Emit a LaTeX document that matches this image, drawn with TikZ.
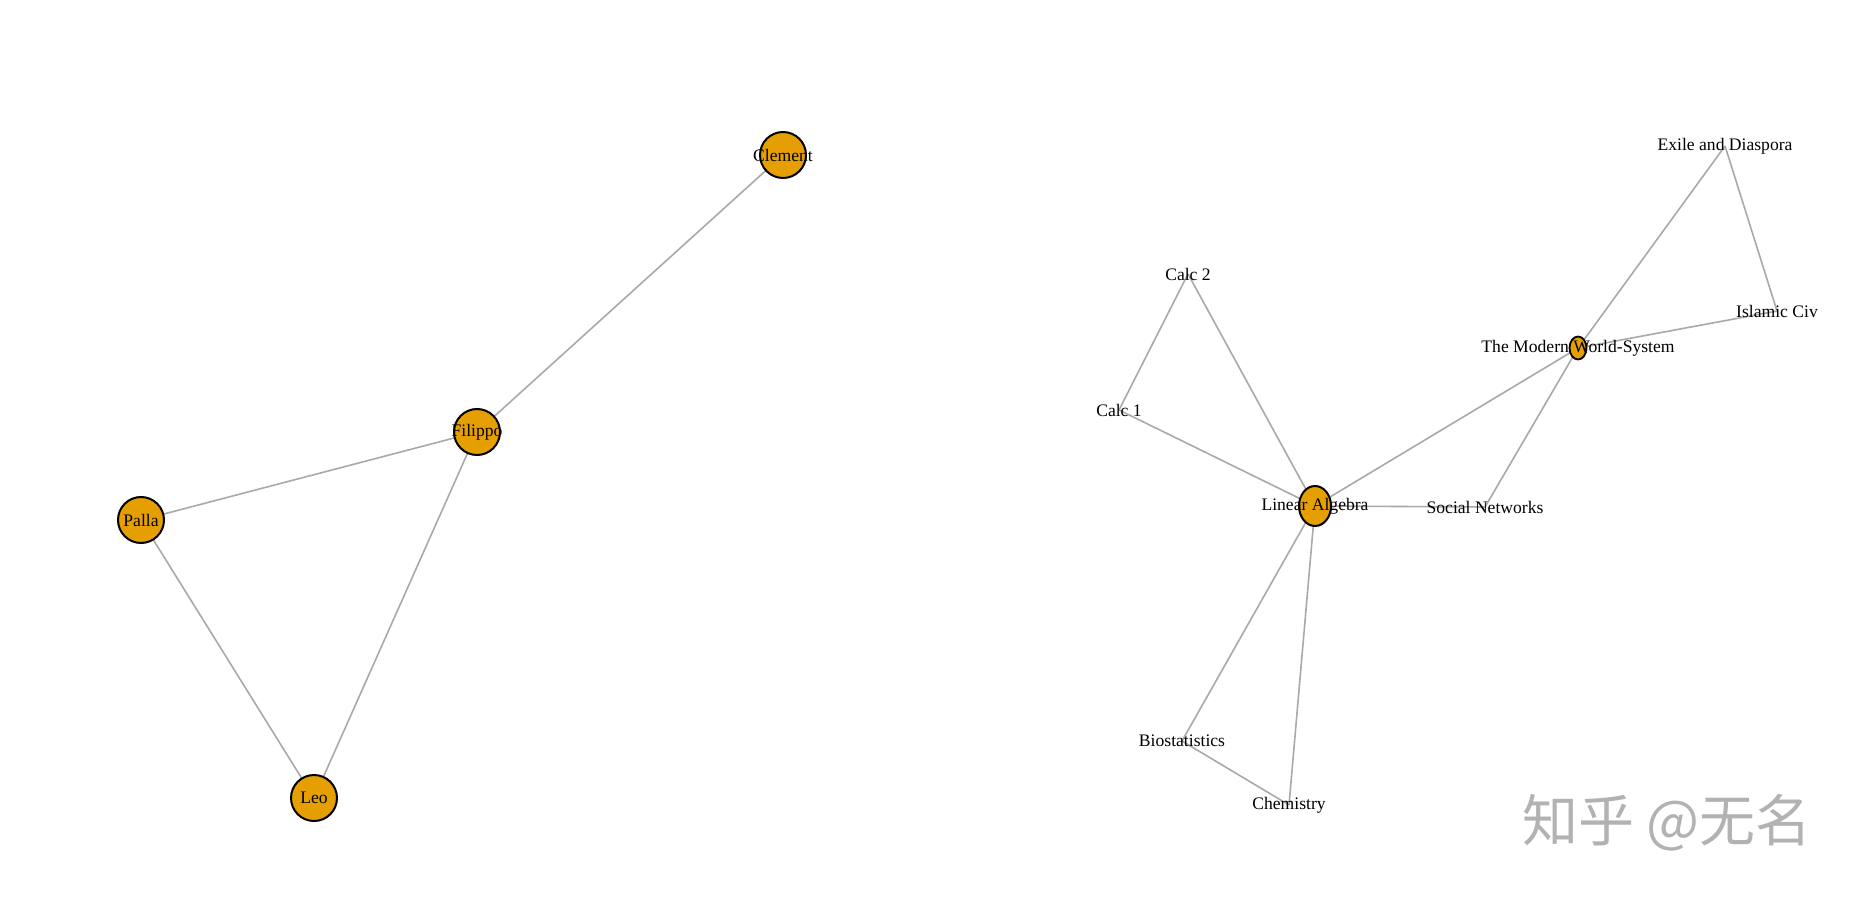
\documentclass[tikz,border=0pt]{standalone}
\usepackage{fontspec}
\setmainfont{Liberation Serif}
\newfontfamily\cjkfont{Noto Sans CJK SC}
\usetikzlibrary{backgrounds,shapes.geometric}

\definecolor{vorange}{HTML}{E69F00}
\definecolor{egrey}{HTML}{A9A9A9}

\begin{document}
\begin{tikzpicture}[x=0.5pt, y=-0.5pt,
    every node/.style={font=\fontsize{8.8}{10}\selectfont},
    vert/.style={circle, draw=black, line width=1pt, fill=vorange, minimum size=23pt, inner sep=0pt},
    lbl/.style={inner sep=1pt},
    edge/.style={draw=egrey, line width=0.8pt}]
\useasboundingbox (0,0) rectangle (1861,898);

% left component
\node[vert, label=center:Clement] (clement) at (783,155) {};
\node[vert, label=center:Filippo] (filippo) at (477,432) {};
\node[vert, label=center:Palla] (palla) at (141,520) {};
\node[vert, label=center:Leo] (leo) at (314,798) {};

% right component
\node[vert, ellipse, minimum width=16pt, minimum height=20pt, label=center:Linear Algebra] (linalg) at (1315,506) {};
\node[vert, ellipse, minimum width=8.5pt, minimum height=11.5pt, line width=0.9pt, label=center:The Modern World-System] (mws) at (1578,348) {};
\node[lbl] (calcone) at (1119,410) {Calc 1};
\node[lbl] (calctwo) at (1188,274) {Calc 2};
\node[lbl] (socnet) at (1485,507) {Social Networks};
\node[lbl] (islciv) at (1777,311) {Islamic Civ};
\node[lbl] (exile) at (1725,146) {Exile and Diaspora};
\node[lbl] (biostat) at (1182,741) {Biostatistics};
\node[lbl] (chem) at (1289,805) {Chemistry};

\node[font=\cjkfont\fontsize{28}{30}\selectfont, text=black!30] (mark) at (1667,823) {知乎 @无名};

\begin{scope}[on background layer]
\fill[white] (0,0) rectangle (1861,898);
\foreach \a/\b in {clement/filippo, filippo/palla, filippo/leo, palla/leo,
    calctwo/calcone, calctwo/linalg, calcone/linalg, linalg/mws, linalg/socnet,
    linalg/biostat, linalg/chem, biostat/chem, mws/exile, mws/islciv, mws/socnet, exile/islciv}
  \draw[edge] (\a.center) -- (\b.center);
\end{scope}
\end{tikzpicture}
\end{document}
